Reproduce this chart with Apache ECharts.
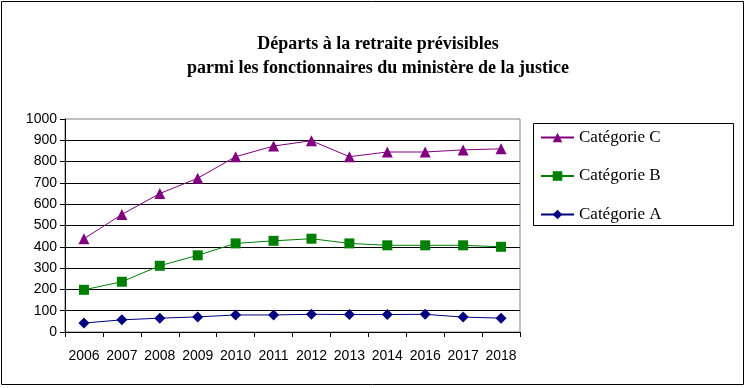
<!DOCTYPE html>
<html><head><meta charset="utf-8">
<script src="https://cdn.jsdelivr.net/npm/echarts@6/dist/echarts.min.js"></script>
<style>html,body{margin:0;padding:0;background:#fff}#c{width:746px;height:388px}</style>
</head><body><div id="c"></div>
<script>
const years = ['2006','2007','2008','2009','2010','2011','2012','2013','2014','2016','2017','2018'];
const catC = [438, 552, 650, 722, 823, 873, 898, 823, 845, 845, 855, 860];
const catB = [198, 236, 311, 360, 416, 428, 438, 416, 407, 407, 407, 400];
const catA = [42, 57, 65, 71, 80, 80, 83, 82, 82, 83, 70, 65];
const names = ['Catégorie C', 'Catégorie B', 'Catégorie A'];
const titleText = 'Départs à la retraite prévisibles\nparmi les fonctionnaires du ministère de la justice';

const chart = echarts.init(document.getElementById('c'), null, {renderer: 'canvas'});
const serif = '"Liberation Serif", "Times New Roman", serif';
const sans = '"Liberation Sans", Arial, sans-serif';
chart.setOption({
  animation: false,
  backgroundColor: '#fff',
  title: {
    text: titleText, left: 373, top: 27, textAlign: 'center',
    textStyle: {fontFamily: serif, fontSize: 18, fontWeight: 'bold', color: '#000', lineHeight: 24}
  },
  graphic: [
    {type: 'rect', shape: {x: 1.5, y: 1.5, width: 742, height: 383}, style: {fill: null, stroke: '#000', lineWidth: 1}, silent: true},
    {type: 'rect', shape: {x: 533.5, y: 123.5, width: 200, height: 102}, style: {fill: null, stroke: '#000', lineWidth: 1}, silent: true}
  ],
  legend: {
    orient: 'vertical', left: 535, top: 124, itemGap: 21.5, itemWidth: 33, itemHeight: 12,
    data: names,
    textStyle: {fontFamily: serif, fontSize: 17, color: '#000'}
  },
  grid: {left: 65, right: 226, top: 119, bottom: 56, show: true, borderColor: '#808080', borderWidth: 1, backgroundColor: '#fff'},
  xAxis: {
    type: 'category', data: years, boundaryGap: true,
    axisLine: {lineStyle: {color: '#000', width: 1}},
    axisTick: {show: true, length: 5, interval: 0, alignWithLabel: false, lineStyle: {color: '#000'}},
    axisLabel: {interval: 0, margin: 17, color: '#000', fontFamily: sans, fontSize: 14}
  },
  yAxis: {
    type: 'value', min: 0, max: 1000, interval: 100,
    axisLine: {show: true, lineStyle: {color: '#000', width: 1}},
    axisTick: {show: true, length: 5, lineStyle: {color: '#000'}},
    axisLabel: {margin: 8, color: '#000', fontFamily: sans, fontSize: 14, formatter: v => String(v)},
    splitLine: {show: true, showMaxLine: false, lineStyle: {color: '#000', width: 1}}
  },
  series: [
    {name: names[0], type: 'line', data: catC, symbol: 'triangle', symbolSize: 11,
     itemStyle: {color: '#800080'}, lineStyle: {color: '#800080', width: 1}},
    {name: names[1], type: 'line', data: catB, symbol: 'rect', symbolSize: 10,
     itemStyle: {color: '#008000'}, lineStyle: {color: '#008000', width: 1}},
    {name: names[2], type: 'line', data: catA, symbol: 'diamond', symbolSize: 11,
     itemStyle: {color: '#000080'}, lineStyle: {color: '#000080', width: 1}}
  ]
});
</script></body></html>
